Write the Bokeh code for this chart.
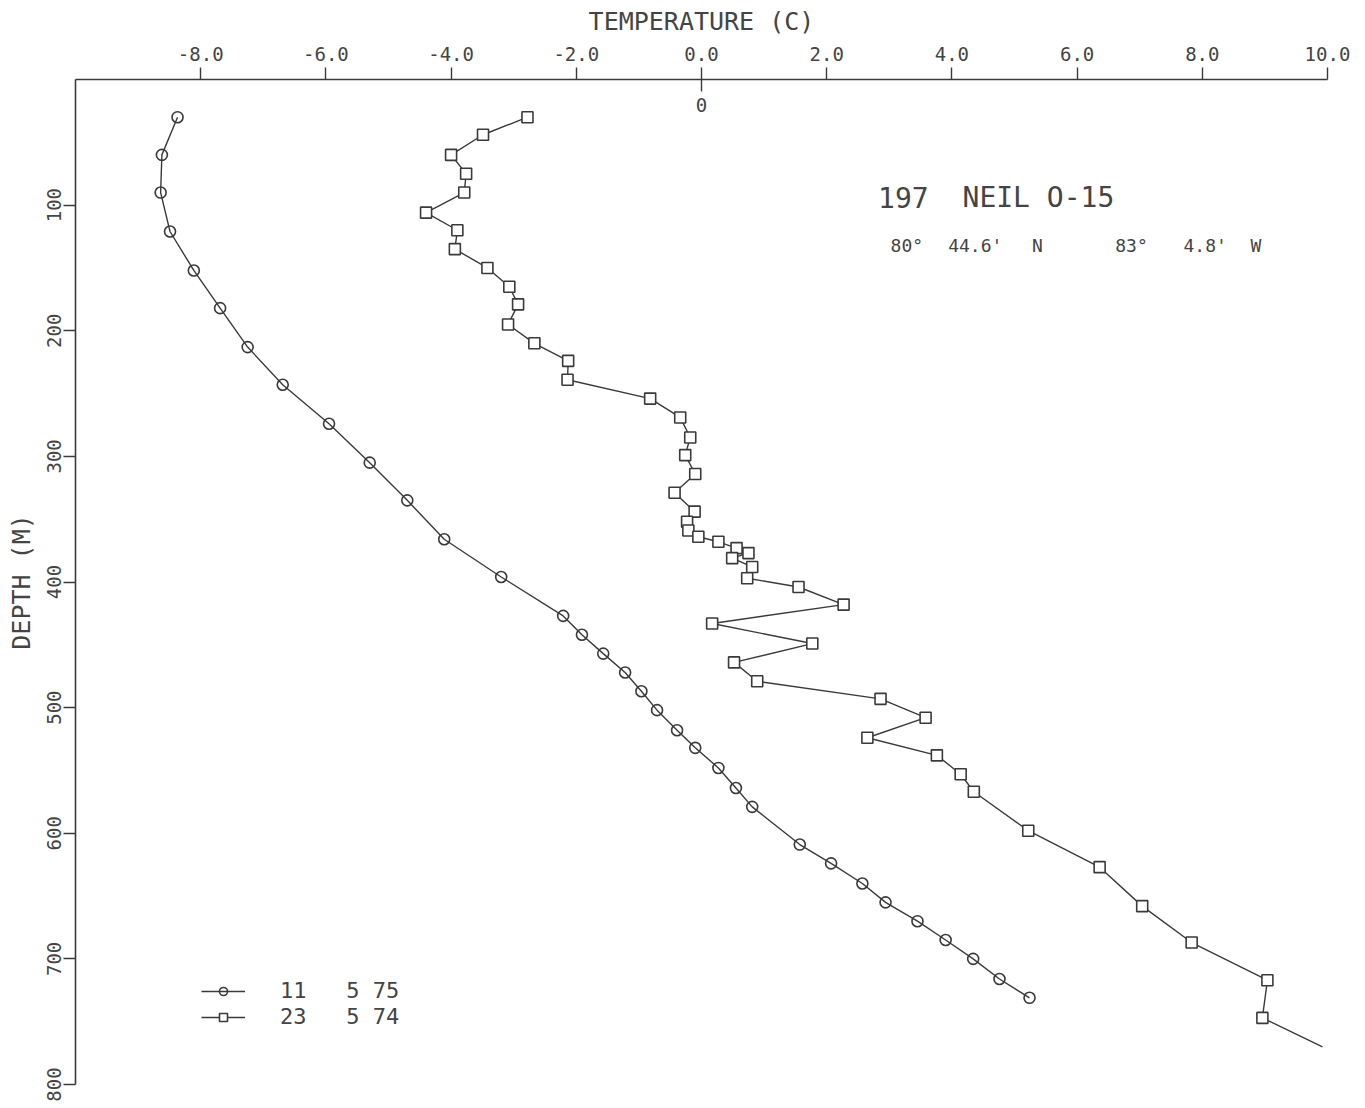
from bokeh.plotting import figure
from bokeh.models import (Range1d, FixedTicker, PrintfTickFormatter, Label, Legend,
                          LegendItem, ColumnDataSource, CDSView, IndexFilter)
from bokeh.embed import file_html
from bokeh.resources import INLINE

# Temperature profile logged 11 5 75 (circles)
temp_75 = [-8.37, -8.62, -8.64, -8.49, -8.11, -7.69, -7.25, -6.69, -5.95, -5.30,
           -4.70, -4.11, -3.20, -2.21, -1.91, -1.57, -1.22, -0.96, -0.71, -0.39,
           -0.10, 0.27, 0.55, 0.81, 1.57, 2.07, 2.57, 2.94, 3.45, 3.90,
           4.34, 4.76, 5.24]
depth_75 = [30, 60, 90, 121, 152, 182, 213, 243, 274, 305,
            335, 366, 396, 427, 442, 457, 472, 487, 502, 518,
            532, 548, 564, 579, 609, 624, 640, 655, 670, 685,
            700, 716, 731]

# Temperature profile logged 23 5 74 (squares); the last reading has no symbol
temp_74 = [-2.78, -3.49, -4.00, -3.76, -3.79, -4.40, -3.90, -3.94, -3.42, -3.07,
           -2.93, -3.09, -2.67, -2.13, -2.14, -0.82, -0.34, -0.18, -0.26, -0.10,
           -0.43, -0.11, -0.23, -0.21, -0.05, 0.27, 0.56, 0.75, 0.49, 0.81,
           0.73, 1.55, 2.27, 0.17, 1.77, 0.52, 0.89, 2.86, 3.58, 2.65,
           3.76, 4.14, 4.35, 5.22, 6.36, 7.04, 7.83, 9.04, 8.96, 9.92]
depth_74 = [30, 44, 60, 75, 90, 106, 120, 135, 150, 165,
            179, 195, 210, 224, 239, 254, 269, 285, 299, 314,
            329, 344, 352, 359, 364, 368, 373, 377, 381, 388,
            397, 404, 418, 433, 449, 464, 479, 493, 508, 524,
            538, 553, 567, 598, 627, 658, 687, 717, 747, 770]

temp_ticks = [-8, -6, -4, -2, 0, 2, 4, 6, 8, 10]
depth_ticks = [100, 200, 300, 400, 500, 600, 700, 800]

label_75 = "11   5 75"
label_74 = "23   5 74"

# station name and position, as separately placed words
station_words = ["197", "NEIL O-15"]
station_x = [2.82, 4.17]
position_words = ["80°", "44.6'", "N", "83°", "4.8'", "W"]
position_x = [3.02, 3.94, 5.28, 6.61, 7.70, 8.77]

FONT = "DejaVu Sans Mono"
INK = "#3a3a3a"
TXT = "#444444"

p = figure(width=1365, height=1108,
           x_range=Range1d(-10, 10), y_range=Range1d(800, 0),
           x_axis_location="above",
           output_backend="svg", toolbar_location=None,
           min_border_left=75, min_border_right=38,
           min_border_top=79, min_border_bottom=24)
p.outline_line_color = None
p.grid.visible = False
p.background_fill_color = "white"
p.border_fill_color = "white"

# temperature axis along the top
xa = p.xaxis[0]
xa.ticker = FixedTicker(ticks=temp_ticks)
xa.formatter = PrintfTickFormatter(format="%.1f")
xa.axis_label = "TEMPERATURE (C)"
xa.axis_label_text_font = FONT
xa.axis_label_text_font_size = "25px"
xa.axis_label_text_font_style = "normal"
xa.axis_label_text_color = TXT
xa.axis_label_standoff = 8
xa.major_label_text_font = FONT
xa.major_label_text_font_size = "19px"
xa.major_label_text_color = TXT
xa.major_label_standoff = 7
xa.major_tick_out = 12
xa.major_tick_in = 0
xa.minor_tick_out = 0
xa.minor_tick_in = 0
xa.axis_line_color = INK
xa.axis_line_width = 1.6
xa.major_tick_line_color = INK
xa.major_tick_line_width = 1.4

# depth axis on the left
ya = p.yaxis[0]
ya.ticker = FixedTicker(ticks=depth_ticks)
ya.major_label_orientation = "vertical"
ya.major_label_text_font = FONT
ya.major_label_text_font_size = "19px"
ya.major_label_text_color = TXT
ya.major_label_standoff = 3
ya.major_tick_out = 12
ya.major_tick_in = 0
ya.minor_tick_out = 0
ya.minor_tick_in = 0
ya.axis_line_color = INK
ya.axis_line_width = 1.6
ya.major_tick_line_color = INK
ya.major_tick_line_width = 1.4
ya.axis_label = "DEPTH (M)"
ya.axis_label_text_font = FONT
ya.axis_label_text_font_size = "25px"
ya.axis_label_text_font_style = "normal"
ya.axis_label_text_color = TXT
ya.axis_label_standoff = 8

# zero-degree reference tick below the temperature axis
p.segment(x0=[0], y0=[0], x1=[0], y1=[9.5], line_color=INK, line_width=1.4)
p.add_layout(Label(x=0, y=20.5, text="0", text_font=FONT, text_font_size="19px",
                   text_color=TXT, text_align="center", text_baseline="middle"))

src75 = ColumnDataSource(dict(t=temp_75, d=depth_75))
src74 = ColumnDataSource(dict(t=temp_74, d=depth_74))

l75 = p.line("t", "d", source=src75, line_color=INK, line_width=1.4)
m75 = p.scatter("t", "d", source=src75, marker="circle", size=11,
                line_color=INK, line_width=1.6, fill_color=None)
l74 = p.line("t", "d", source=src74, line_color=INK, line_width=1.4)
m74 = p.scatter("t", "d", source=src74, marker="square", size=11,
                line_color=INK, line_width=1.6, fill_color="white",
                view=CDSView(filter=IndexFilter(list(range(len(temp_74) - 1)))))

# one key entry per row so the rows sit close together
for label, rends, loc in [(label_75, [l75, m75], (126, 81)),
                          (label_74, [l74, m74], (126, 55))]:
    leg = Legend(items=[LegendItem(label=label, renderers=rends)],
                 location=loc, glyph_width=44, glyph_height=20, label_standoff=35,
                 label_height=20, spacing=0, padding=0, margin=0,
                 label_text_font=FONT, label_text_font_size="22px",
                 label_text_color=TXT, label_text_baseline="middle",
                 border_line_alpha=0, background_fill_alpha=0)
    p.add_layout(leg, "center")

# station annotation
for word, x in zip(station_words, station_x):
    p.add_layout(Label(x=x, y=93.6, text=word, text_font=FONT,
                       text_font_size="28px", text_color=TXT, text_baseline="middle"))
for word, x in zip(position_words, position_x):
    p.add_layout(Label(x=x, y=132, text=word, text_font=FONT,
                       text_font_size="18px", text_color=TXT, text_baseline="middle"))

open("out.html", "w").write(file_html(p, INLINE))
